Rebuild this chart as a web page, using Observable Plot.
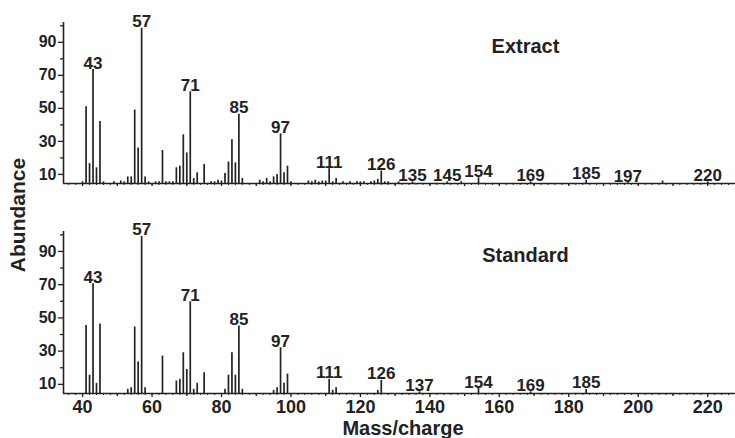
<!DOCTYPE html>
<html>
<head>
<meta charset="utf-8">
<script src="https://cdn.jsdelivr.net/npm/d3@7"></script>
<script src="https://cdn.jsdelivr.net/npm/@observablehq/plot@0.6"></script>
<style>
  html, body { margin: 0; padding: 0; background: #fff; }
  #chart { position: relative; width: 735px; height: 438px; overflow: hidden;
    font-family: "Liberation Sans", Arial, sans-serif; color: #222; }
  #top, #bottom { position: absolute; left: 0; }
  #top { top: 0; }
  #bottom { top: 210px; }
  .axlabel { position: absolute; font-weight: bold; font-size: 21px; line-height: 24px; white-space: nowrap; }
  #ylab { left: 18px; top: 215px; transform: translate(-50%, -50%) rotate(-90deg); }
  #xlab { left: 403px; top: 418px; font-size: 20px; line-height: 20px; transform: translateX(-50%); }
</style>
</head>
<body>
<div id="chart">
  <div id="top"></div>
  <div id="bottom"></div>
  <div class="axlabel" id="ylab">Abundance</div>
  <div class="axlabel" id="xlab">Mass/charge</div>
</div>
<script>
// ---- Extract spectrum (m/z, relative abundance) ----
const extractMz = [40,41,42,43,44,45,46,49,51,52,53,54,55,56,57,58,59,61,62,63,64,65,66,67,68,69,70,71,72,73,75,77,78,79,80,81,82,83,84,85,86,91,92,93,94,95,96,97,98,99,100,105,106,107,108,109,110,111,112,113,115,117,119,120,121,123,124,125,126,127,128,131,135,145,149,154,169,185,197,207,220];
const extractAb = [5.5,51,16.5,73.5,14,42,5.5,5.5,6,5.5,8.5,8.5,49,26,98.5,8.5,5.5,5.5,5.5,24.5,5.5,5.5,5.5,14,15,34,23,60,7.5,11,16,5.5,5.5,6.5,6,10.5,17.5,31,17,46.5,7.5,6.5,5.5,7.5,5.5,8.5,10,34.5,11,15,5.5,6,5.5,6.5,5.5,6,6,13.5,5.5,7.5,5.5,5.5,5.5,5.5,5.5,5.5,6,7,12,5.5,5.5,5.5,5.5,5.5,5.5,8,5.5,6.5,5,6,5.5];
const extractLabels = [43,57,71,85,97,111,126,135,145,154,169,185,197,220];

// ---- Standard spectrum ----
const standardMz = [41,42,43,44,45,53,54,55,56,57,58,63,67,68,69,70,71,72,73,75,81,82,83,84,85,86,95,96,97,98,99,111,112,113,125,126,137,154,169,185];
const standardAb = [45.5,15.5,70.5,10.6,46.4,7,8,44.5,23.5,99,8,27,12,13,29,19,59.7,7,10.6,17,7,15.5,29,15.5,45.2,7,6.4,8,32,10.6,16.2,13,6.4,8,6.4,12.4,5.5,7.5,5.5,7];
const standardLabels = [43,57,71,85,97,111,126,137,154,169,185];

// ---- Axes ----
const xDomain = [34.5, 228];
const yDomain = [4.5, 102];
const xTickLabels = [40,60,80,100,120,140,160,180,200,220];
const xMidTicks = [50,70,90,110,130,150,170,190,210];
const xMinorTicks = d3.range(36, 228, 2);
const yTickLabels = [10,30,50,70,90];
const yMinorTicks = [20,40,60,80,100];

const ink = "#222";
const font = "'Liberation Sans', Arial, sans-serif";

function panel(mz, ab, labels, title, bottom) {
  const data = mz.map((m, i) => ({mz: m, ab: ab[i]}));
  const lab = labels.map(m => ({mz: m, ab: ab[mz.indexOf(m)], text: String(m)}));
  const height = bottom ? 228 : 200;
  const marginTop = bottom ? 21 : 22;
  const marginBottom = bottom ? 45 : 17;
  const marks = [
    Plot.ruleX(data, {x: "mz", y1: yDomain[0], y2: "ab", stroke: ink, strokeWidth: 1.7}),
    Plot.ruleY([yDomain[0]], {stroke: ink, strokeWidth: 1.6}),
    Plot.ruleX([xDomain[0]], {y1: yDomain[0], y2: yDomain[1], stroke: ink, strokeWidth: 1.6}),
    Plot.axisX({ticks: xMinorTicks, tickSize: 2, text: null, label: null, stroke: ink}),
    Plot.axisX({ticks: xMidTicks, tickSize: 3, text: null, label: null, stroke: ink, strokeWidth: 1.3}),
    bottom
      ? Plot.axisX({ticks: xTickLabels, tickSize: 4, tickPadding: 3, label: null, fontSize: 18, fontWeight: "bold", fill: ink, stroke: ink, strokeWidth: 1.3})
      : Plot.axisX({ticks: xTickLabels, tickSize: 3, text: null, label: null, stroke: ink, strokeWidth: 1.3}),
    Plot.axisY({ticks: yTickLabels, tickSize: 5, tickPadding: 2, label: null, fontSize: 16, fontWeight: "bold", fill: ink, stroke: ink, strokeWidth: 1.3}),
    Plot.axisY({ticks: yMinorTicks, tickSize: 3, text: null, label: null, stroke: ink, strokeWidth: 1.3}),
    Plot.text(lab, {x: "mz", y: "ab", text: "text", lineAnchor: "bottom", dy: -1, fontSize: 17, fontWeight: "bold", fill: ink}),
    Plot.text([title], {frameAnchor: "top-right", textAnchor: "middle", lineAnchor: "bottom", dx: -210, dy: 30, fontSize: 20, fontWeight: "bold", fill: ink})
  ];
  return Plot.plot({
    width: 735,
    height,
    marginTop,
    marginBottom,
    marginLeft: 63,
    marginRight: 0,
    style: {fontFamily: font, color: ink, background: "transparent", overflow: "visible"},
    x: {domain: xDomain},
    y: {domain: yDomain},
    marks
  });
}

document.getElementById("top").appendChild(panel(extractMz, extractAb, extractLabels, "Extract", false));
document.getElementById("bottom").appendChild(panel(standardMz, standardAb, standardLabels, "Standard", true));
</script>
</body>
</html>
